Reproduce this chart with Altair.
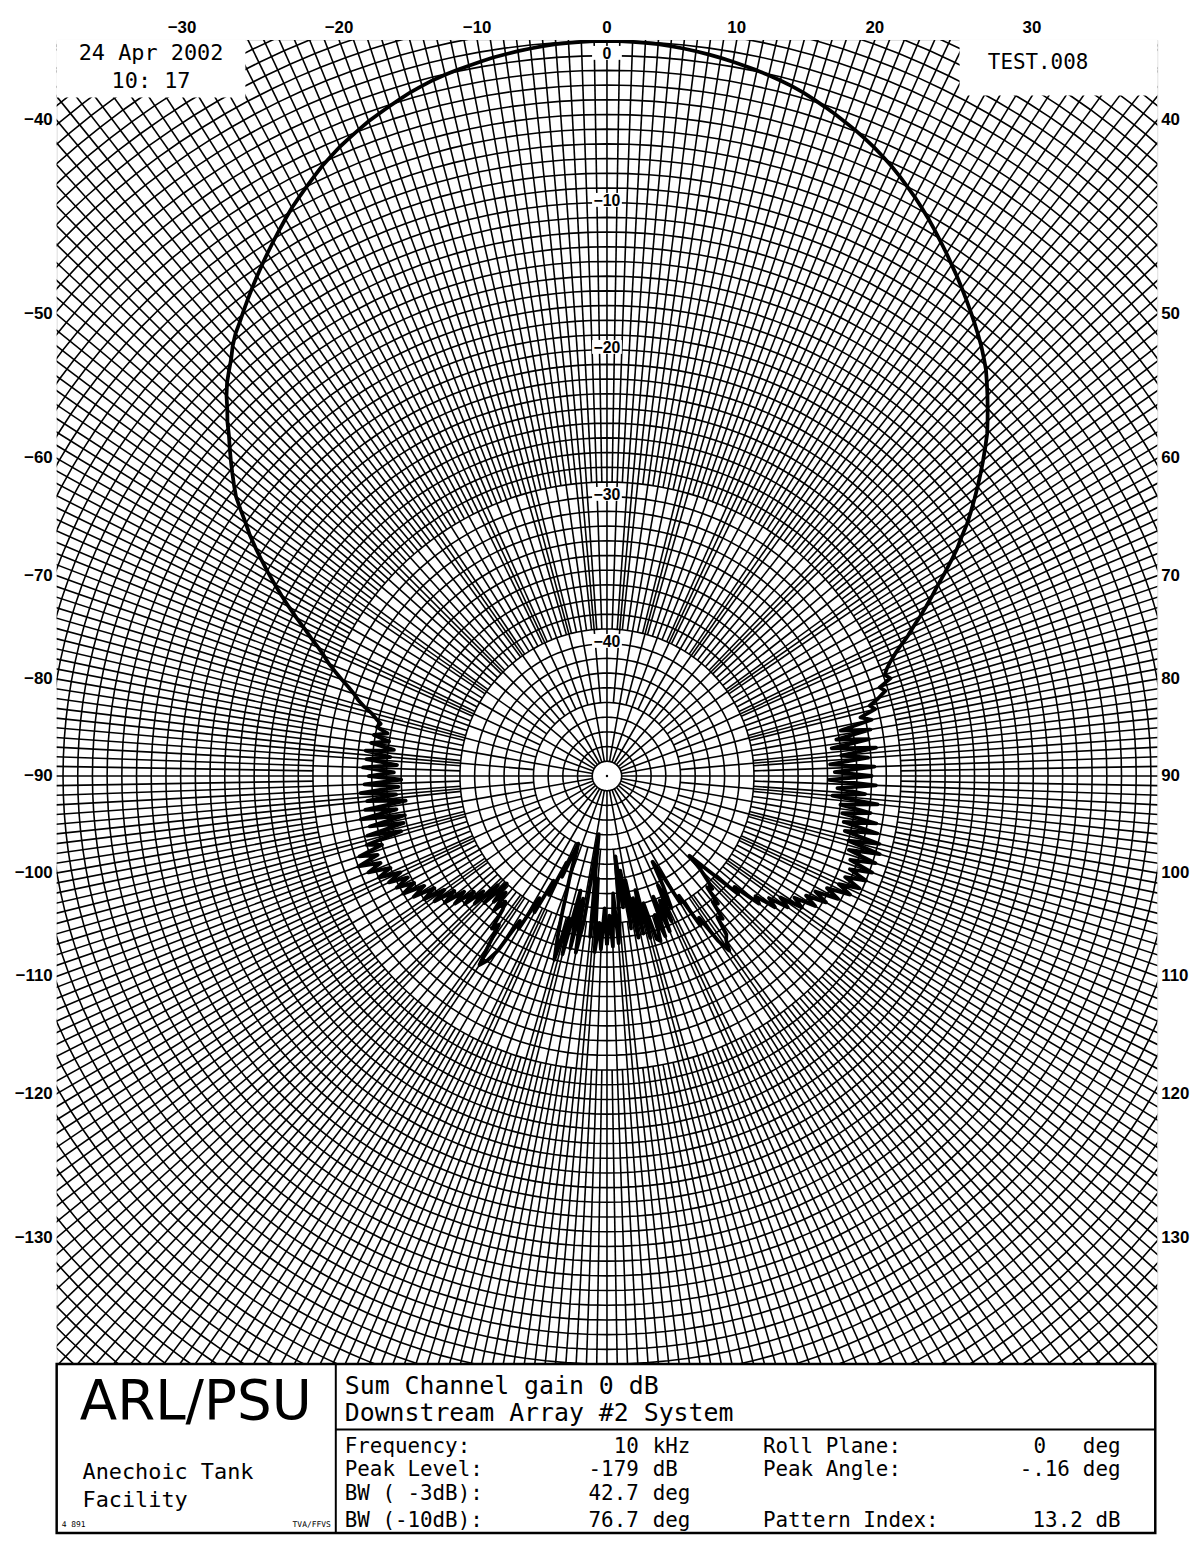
import altair as alt
import pandas as pd

# ---------------- data ----------------
# measured level (dB re peak) every degree, -180 .. -1
LEVEL_LEFT = [
    -38.5, -41.0, -38.2, -40.0, -38.0, -43.0, -39.0, -44.0, -46.0, -40.0,
    -37.8, -41.5, -38.0, -42.0, -37.5, -40.0, -37.0, -38.5, -40.0, -41.5,
    -42.5, -43.5, -44.5, -45.0, -42.5, -43.5, -41.0, -42.0, -39.5, -40.5,
    -38.0, -38.5, -36.0, -35.0, -34.5, -36.0, -37.5, -37.0, -38.5, -39.0,
    -38.0, -39.5, -38.5, -40.0, -38.0, -39.5, -37.5, -38.5, -37.0, -38.0,
    -36.5, -37.5, -36.0, -37.0, -35.5, -36.5, -35.0, -36.0, -34.5, -35.5,
    -34.0, -35.0, -33.8, -34.8, -33.5, -34.5, -33.0, -34.0, -32.5, -33.5,
    -32.0, -33.5, -32.3, -34.0, -33.0, -35.5, -33.2, -35.8, -33.5, -36.0,
    -33.0, -35.5, -33.4, -36.2, -33.6, -35.6, -33.2, -35.8, -33.5, -36.0,
    -33.8, -35.5, -33.4, -35.7, -33.6, -35.2, -33.5, -35.4, -33.8, -35.0,
    -33.9, -34.8, -34.0, -34.2, -33.8, -33.4, -32.8, -32.3, -31.9, -31.4,
    -30.8, -30.2, -29.6, -29.1, -28.5, -27.8, -27.1, -26.3, -25.5, -24.7,
    -23.9, -23.1, -22.3, -21.5, -20.7, -20.0, -19.2, -18.4, -17.8, -17.2,
    -16.6, -16.0, -15.4, -14.7, -14.1, -13.4, -12.8, -12.3, -11.8, -11.2,
    -10.7, -10.3, -9.85, -9.4, -8.95, -8.5, -8.05, -7.6, -7.15, -6.7,
    -6.25, -5.8, -5.4, -5.0, -4.6, -4.2, -3.85, -3.5, -3.2, -2.9,
    -2.6, -2.35, -2.1, -1.85, -1.6, -1.4, -1.2, -1.05, -0.9, -0.78,
    -0.65, -0.52, -0.42, -0.32, -0.24, -0.16, -0.1, -0.06, -0.03, -0.01,
]
LEVEL_PEAK = [0.0]
# 1 .. 180
LEVEL_RIGHT = [
    -0.01, -0.03, -0.06, -0.1, -0.16, -0.24, -0.33, -0.43, -0.54, -0.67,
    -0.8, -0.93, -1.08, -1.24, -1.42, -1.62, -1.87, -2.12, -2.38, -2.65,
    -2.92, -3.22, -3.53, -3.87, -4.22, -4.6, -5.0, -5.4, -5.82, -6.25,
    -6.7, -7.15, -7.6, -8.06, -8.5, -8.95, -9.4, -9.85, -10.3, -10.75,
    -11.2, -11.7, -12.2, -12.8, -13.4, -14.0, -14.6, -15.2, -15.9, -16.6,
    -17.3, -18.0, -18.7, -19.4, -20.1, -20.9, -21.6, -22.4, -23.2, -24.0,
    -24.7, -25.4, -26.1, -26.8, -27.4, -28.1, -28.7, -29.2, -29.6, -29.9,
    -29.6, -30.5, -30.2, -30.8, -31.5, -31.2, -32.3, -31.6, -33.8, -31.8,
    -34.2, -32.0, -34.6, -31.6, -34.0, -32.2, -34.8, -31.8, -34.5, -32.0,
    -34.9, -31.7, -34.3, -32.4, -34.6, -31.5, -34.0, -31.9, -33.8, -31.4,
    -33.6, -31.2, -33.4, -30.9, -33.0, -30.7, -32.8, -30.8, -32.5, -30.8,
    -32.3, -31.0, -32.4, -31.2, -32.6, -31.6, -33.2, -32.2, -33.8, -32.8,
    -34.2, -33.3, -34.8, -34.0, -35.6, -34.8, -36.2, -35.5, -37.0, -36.5,
    -38.5, -38.0, -40.5, -42.2, -41.0, -40.2, -39.5, -39.8, -38.5, -38.8,
    -37.5, -37.8, -36.5, -36.2, -35.5, -36.5, -38.5, -38.0, -40.5, -40.0,
    -42.5, -43.4, -41.5, -40.0, -41.8, -39.2, -40.8, -38.6, -41.2, -38.4,
    -40.0, -38.2, -38.4, -41.0, -38.6, -42.0, -39.0, -41.5, -38.8, -42.8,
    -39.5, -43.5, -41.0, -44.5, -40.0, -38.6, -42.0, -38.4, -40.5, -38.5,
]
ANGLES = list(range(-180, 181))
LEVELS = LEVEL_LEFT + LEVEL_PEAK + LEVEL_RIGHT
assert len(ANGLES) == len(LEVELS)

TOP_TICKS = [-30, -20, -10, 0, 10, 20, 30]
SIDE_TICKS = [40, 50, 60, 70, 80, 90, 100, 110, 120, 130]
RING_TICKS = [0, -10, -20, -30, -40]

DATE_LINES = ["24 Apr 2002", "10: 17"]
FILE_NAME = "TEST.008"
ORG = "ARL/PSU"
FACILITY = ["Anechoic Tank", "Facility"]
SMALL_LEFT = "4 891"
SMALL_RIGHT = "TVA/FFVS"
TITLE_LINES = ["Sum Channel gain 0 dB", "Downstream Array #2 System"]
INFO_LABELS = ["Frequency:", "Peak Level:", "BW ( -3dB):", "BW (-10dB):"]
INFO_NUMS = ["10", "-179", "42.7", "76.7"]
INFO_UNITS = ["kHz", "dB", "deg", "deg"]
INFO2_LABELS = ["Roll Plane:", "Peak Angle:", "Pattern Index:"]
INFO2_NUMS = ["0", "-.16", "13.2"]
INFO2_UNITS = ["deg", "deg", "dB"]

# ---------------- layout constants ----------------
W, H = 1108, 1333
XH = 37.432          # half width of plot in dB-radius units
YT, YB = 50.068, -40.0
XS = alt.Scale(domain=[-XH, XH], nice=False, zero=False)
YS = alt.Scale(domain=[YB, YT], nice=False, zero=False)
MONO = "DejaVu Sans Mono"
SANS = "Liberation Sans"
ONE = pd.DataFrame({"k": [0]})

# ---------------- grid ----------------
rings = (
    alt.Chart(alt.sequence(0, 362, 2, as_="a"))
    .transform_calculate(ring="sequence(1, 64)")
    .transform_flatten(["ring"])
    .transform_calculate(
        x="datum.ring*sin(datum.a*PI/180)", y="datum.ring*cos(datum.a*PI/180)"
    )
    .mark_line(clip=True, color="black", strokeWidth=1.6)
    .encode(
        x=alt.X("x:Q", scale=XS, axis=None),
        y=alt.Y("y:Q", scale=YS, axis=None),
        detail="ring:N",
        order="a:Q",
    )
)

spokes = (
    alt.Chart(alt.sequence(0, 360, 1, as_="deg"))
    .transform_calculate(
        r0="datum.deg % 10 == 0 ? 1 : (datum.deg % 5 == 0 ? 5 : (datum.deg % 2 == 0 ? 10 : 20))",
        t="datum.deg*PI/180",
    )
    .transform_calculate(
        x="datum.r0*sin(datum.t)", y="datum.r0*cos(datum.t)",
        x2="70*sin(datum.t)", y2="70*cos(datum.t)",
    )
    .mark_rule(clip=True, color="black", strokeWidth=1.6)
    .encode(
        x=alt.X("x:Q", scale=XS, axis=None),
        y=alt.Y("y:Q", scale=YS, axis=None),
        x2="x2:Q",
        y2="y2:Q",
    )
)

center_dot = (
    alt.Chart(ONE)
    .transform_calculate(x="0", y="0")
    .mark_point(filled=True, color="black", size=6, opacity=1)
    .encode(x=alt.X("x:Q", scale=XS, axis=None), y=alt.Y("y:Q", scale=YS, axis=None))
)

# white label boxes in the top corners
box_tl = alt.Chart(ONE).mark_rect(color="white").encode(
    x=alt.value(0), x2=alt.value(190), y=alt.value(0), y2=alt.value(58))
box_tr = alt.Chart(ONE).mark_rect(color="white").encode(
    x=alt.value(909), x2=alt.value(W), y=alt.value(0), y2=alt.value(56))

# ---------------- pattern ----------------
pattern_df = pd.DataFrame({"angle": ANGLES, "level": LEVELS})
pattern = (
    alt.Chart(pattern_df)
    .transform_calculate(
        r="max(datum.level + 50, 0)", t="datum.angle*PI/180"
    )
    .transform_calculate(x="datum.r*sin(datum.t)", y="datum.r*cos(datum.t)")
    .mark_line(clip=True, color="black", strokeWidth=3.8, strokeJoin="round")
    .encode(
        x=alt.X("x:Q", scale=XS, axis=None),
        y=alt.Y("y:Q", scale=YS, axis=None),
        order="angle:Q",
    )
)

# ---------------- scale labels ----------------
top_lab = (
    alt.Chart(pd.DataFrame({"ang": TOP_TICKS}))
    .transform_calculate(
        x=f"{YT}*tan(datum.ang*PI/180)", y=f"{YT}", lab="format(datum.ang, 'd')"
    )
    .mark_text(font=SANS, fontWeight="bold", fontSize=17, baseline="bottom", dy=-3)
    .encode(x=alt.X("x:Q", scale=XS, axis=None), y=alt.Y("y:Q", scale=YS, axis=None),
            text="lab:N")
)
side_df = pd.DataFrame({"ang": SIDE_TICKS})
right_lab = (
    alt.Chart(side_df)
    .transform_calculate(
        x=f"{XH}", y=f"{XH}*cos(datum.ang*PI/180)/sin(datum.ang*PI/180)",
        lab="format(datum.ang, 'd')",
    )
    .mark_text(font=SANS, fontWeight="bold", fontSize=17, align="left", dx=4)
    .encode(x=alt.X("x:Q", scale=XS, axis=None), y=alt.Y("y:Q", scale=YS, axis=None),
            text="lab:N")
)
left_lab = (
    alt.Chart(side_df)
    .transform_calculate(
        x=f"{-XH}", y=f"{XH}*cos(datum.ang*PI/180)/sin(datum.ang*PI/180)",
        lab="format(-datum.ang, 'd')",
    )
    .mark_text(font=SANS, fontWeight="bold", fontSize=17, align="right", dx=-4)
    .encode(x=alt.X("x:Q", scale=XS, axis=None), y=alt.Y("y:Q", scale=YS, axis=None),
            text="lab:N")
)
ring_df = pd.DataFrame({"db": RING_TICKS})
ring_lab_bg = (
    alt.Chart(ring_df)
    .transform_calculate(x="0", y="datum.db + 50")
    .mark_rect(color="white", width=30, height=14, yOffset=12)
    .encode(x=alt.X("x:Q", scale=XS, axis=None), y=alt.Y("y:Q", scale=YS, axis=None))
)
ring_lab = (
    alt.Chart(ring_df)
    .transform_calculate(x="0", y="datum.db + 50", lab="format(datum.db, 'd')")
    .mark_text(font=SANS, fontWeight="bold", fontSize=16, baseline="top", dy=5)
    .encode(x=alt.X("x:Q", scale=XS, axis=None), y=alt.Y("y:Q", scale=YS, axis=None),
            text="lab:N")
)


# ---------------- annotations ----------------
def label(s, x, y, size, font=MONO, align="left", baseline="middle", weight="normal"):
    return alt.Chart(ONE).mark_text(
        text=s, align=align, baseline=baseline, fontSize=size, font=font,
        fontWeight=weight, color="black",
    ).encode(x=alt.value(x), y=alt.value(y))


def hline(x1, x2, y, w=2):
    return alt.Chart(ONE).mark_rule(color="black", strokeWidth=w).encode(
        x=alt.value(x1), x2=alt.value(x2), y=alt.value(y))


def vline(x, y1, y2, w=2):
    return alt.Chart(ONE).mark_rule(color="black", strokeWidth=w).encode(
        x=alt.value(x), y=alt.value(y1), y2=alt.value(y2))


IB = H  # top of info block (px, relative to plot)
info_rect = alt.Chart(ONE).mark_rect(color="white", stroke="black", strokeWidth=2.5).encode(
    x=alt.value(0), x2=alt.value(1106), y=alt.value(IB), y2=alt.value(IB + 170))

ann = [
    label(DATE_LINES[0], 95, 13, 22, align="center"),
    label(DATE_LINES[1], 95, 41, 22, align="center"),
    label(FILE_NAME, 988, 23, 21, align="center"),
    info_rect,
    vline(281, IB, IB + 170),
    hline(281, 1106, IB + 66),
    label(ORG, 140, IB + 38, 55, font="DejaVu Sans", align="center"),
    label(FACILITY[0], 26, IB + 109, 22),
    label(FACILITY[1], 26, IB + 137, 22),
    label(SMALL_LEFT, 5, IB + 162, 8),
    label(SMALL_RIGHT, 276, IB + 162, 8, align="right"),
    label(TITLE_LINES[0], 290, IB + 22, 25),
    label(TITLE_LINES[1], 290, IB + 49, 25),
]
row_y = [IB + 84, IB + 107, IB + 131, IB + 158]
for i, s in enumerate(INFO_LABELS):
    ann.append(label(s, 290, row_y[i], 21))
for i, s in enumerate(INFO_NUMS):
    ann.append(label(s, 586, row_y[i], 21, align="right"))
for i, s in enumerate(INFO_UNITS):
    ann.append(label(s, 600, row_y[i], 21))
ann2_y = [row_y[0], row_y[1], row_y[3]]
num2_end = [996, 1020, 1033]
for i, s in enumerate(INFO2_LABELS):
    ann.append(label(s, 711, ann2_y[i], 21))
for i, s in enumerate(INFO2_NUMS):
    ann.append(label(s, num2_end[i], ann2_y[i], 21, align="right"))
for i, s in enumerate(INFO2_UNITS):
    ann.append(label(s, 1071, ann2_y[i], 21, align="right"))

chart = alt.layer(
    rings, spokes, center_dot, box_tl, box_tr, pattern,
    ring_lab_bg, ring_lab, top_lab, right_lab, left_lab, *ann
).properties(
    width=W, height=H,
    autosize=alt.AutoSizeParams(type="none"),
    padding={"left": 49, "top": 27, "right": 39, "bottom": 175},
).configure_view(stroke="black", strokeWidth=2.5).configure(background="white")

chart.save("out.html", embed_options={"renderer": "svg", "actions": False})
